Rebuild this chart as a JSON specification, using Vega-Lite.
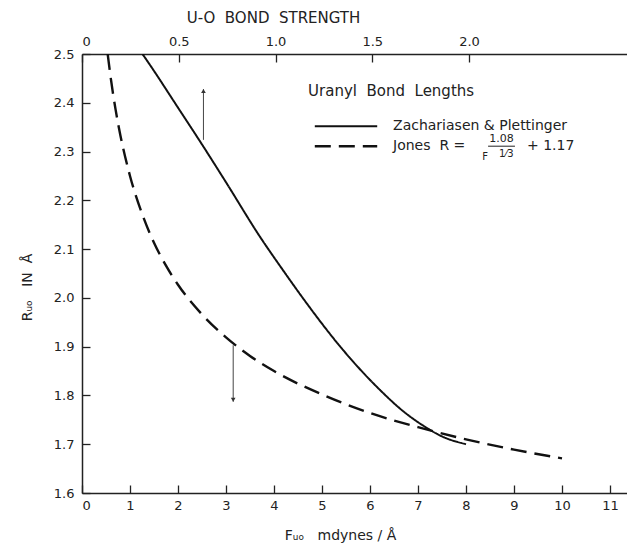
{
  "$schema": "https://vega.github.io/schema/vega-lite/v6.json",
  "autosize": "none",
  "width": 545,
  "height": 439,
  "padding": {"left": 82, "top": 54, "right": 0, "bottom": 53},
  "background": "white",
  "config": {
    "view": {"stroke": null},
    "font": "DejaVu Sans",
    "axis": {
      "grid": false,
      "domainColor": "#222",
      "tickColor": "#222",
      "labelColor": "#222",
      "titleColor": "#222",
      "labelFont": "DejaVu Sans",
      "titleFont": "DejaVu Sans",
      "labelFontSize": 13,
      "titleFontSize": 14,
      "titleFontWeight": "normal",
      "domainWidth": 1.5,
      "tickWidth": 1.3
    }
  },
  "datasets": {
    "curves": [
      {"series": "Zachariasen & Plettinger", "F": 1.26, "R": 2.5},
      {"series": "Zachariasen & Plettinger", "F": 1.42, "R": 2.477},
      {"series": "Zachariasen & Plettinger", "F": 2.0, "R": 2.39},
      {"series": "Zachariasen & Plettinger", "F": 2.53, "R": 2.31},
      {"series": "Zachariasen & Plettinger", "F": 3.0, "R": 2.237},
      {"series": "Zachariasen & Plettinger", "F": 3.71, "R": 2.125},
      {"series": "Zachariasen & Plettinger", "F": 4.2, "R": 2.055},
      {"series": "Zachariasen & Plettinger", "F": 4.68, "R": 1.989},
      {"series": "Zachariasen & Plettinger", "F": 5.44, "R": 1.893},
      {"series": "Zachariasen & Plettinger", "F": 6.2, "R": 1.812},
      {"series": "Zachariasen & Plettinger", "F": 6.7, "R": 1.767},
      {"series": "Zachariasen & Plettinger", "F": 7.11, "R": 1.738},
      {"series": "Zachariasen & Plettinger", "F": 7.5, "R": 1.716},
      {"series": "Zachariasen & Plettinger", "F": 8.0, "R": 1.7},
      {"series": "Jones", "F": 0.535, "R": 2.5},
      {"series": "Jones", "F": 0.6, "R": 2.45},
      {"series": "Jones", "F": 0.7, "R": 2.386},
      {"series": "Jones", "F": 0.8, "R": 2.333},
      {"series": "Jones", "F": 0.9, "R": 2.289},
      {"series": "Jones", "F": 1.0, "R": 2.25},
      {"series": "Jones", "F": 1.25, "R": 2.173},
      {"series": "Jones", "F": 1.5, "R": 2.113},
      {"series": "Jones", "F": 1.75, "R": 2.066},
      {"series": "Jones", "F": 2.0, "R": 2.027},
      {"series": "Jones", "F": 2.5, "R": 1.966},
      {"series": "Jones", "F": 3.0, "R": 1.919},
      {"series": "Jones", "F": 3.5, "R": 1.881},
      {"series": "Jones", "F": 4.0, "R": 1.85},
      {"series": "Jones", "F": 5.0, "R": 1.802},
      {"series": "Jones", "F": 6.0, "R": 1.764},
      {"series": "Jones", "F": 7.0, "R": 1.735},
      {"series": "Jones", "F": 8.0, "R": 1.71},
      {"series": "Jones", "F": 9.0, "R": 1.689},
      {"series": "Jones", "F": 10.0, "R": 1.671}
    ],
    "arrows": [
      {"F": 2.53, "R": 2.324, "R2": 2.428, "tipR": 2.424, "dir": "triangle-up"},
      {"F": 3.15, "R": 1.903, "R2": 1.787, "tipR": 1.791, "dir": "triangle-down"}
    ],
    "keylines": [
      {"series": "Zachariasen & Plettinger", "F": 4.85, "F2": 6.15, "R": 2.352},
      {"series": "Jones", "F": 4.85, "F2": 6.15, "R": 2.311}
    ],
    "fracbar": [
      {"F": 8.46, "F2": 9.02, "R": 2.311}
    ],
    "labels": [
      {"text": "Uranyl\u00a0 Bond\u00a0 Lengths", "F": 4.71, "R": 2.424, "size": 15},
      {"text": "Zachariasen & Plettinger", "F": 6.48, "R": 2.352, "size": 14},
      {"text": "Jones\u00a0 R =", "F": 6.48, "R": 2.311, "size": 14},
      {"text": "+ 1.17", "F": 9.27, "R": 2.311, "size": 14}
    ],
    "smalllabels": [
      {"text": "1.08", "F": 8.74, "R": 2.326, "size": 11},
      {"text": "F", "F": 8.4, "R": 2.288, "size": 10},
      {"text": "1⁄3", "F": 8.84, "R": 2.294, "size": 10}
    ],
    "top": [{"bs": 0}]
  },
  "layer": [
    {
      "layer": [
        {
          "data": {"name": "curves"},
          "mark": {"type": "line", "interpolate": "monotone", "color": "#111", "clip": true},
          "encoding": {
            "x": {
              "field": "F", "type": "quantitative",
              "scale": {"domain": [0, 11.354], "nice": false, "zero": false},
              "axis": {
                "orient": "bottom",
                "values": [0, 1, 2, 3, 4, 5, 6, 7, 8, 9, 10, 11],
                "format": "d",
                "tickSize": -8,
                "labelPadding": 14,
                "title": "Fᵤₒ\u00a0\u00a0 mdynes / Å",
                "titleX": 258,
                "titleY": 42,
                "titleBaseline": "middle",
                "titleAlign": "center"
              }
            },
            "y": {
              "field": "R", "type": "quantitative",
              "scale": {"domain": [1.6, 2.5], "nice": false, "zero": false},
              "axis": {
                "values": [1.6, 1.7, 1.8, 1.9, 2.0, 2.1, 2.2, 2.3, 2.4, 2.5],
                "format": ".1f",
                "tickSize": -8,
                "labelPadding": 16,
                "title": "Rᵤₒ\u00a0\u00a0 IN\u00a0 Å",
                "titleX": -55,
                "titleY": 233,
                "titleBaseline": "middle",
                "titleAlign": "center"
              }
            },
            "detail": {"field": "series"},
            "strokeDash": {
              "field": "series", "type": "nominal",
              "scale": {"domain": ["Zachariasen & Plettinger", "Jones"], "range": [[1, 0], [16, 8]]},
              "legend": null
            },
            "strokeWidth": {
              "field": "series", "type": "nominal",
              "scale": {"domain": ["Zachariasen & Plettinger", "Jones"], "range": [2, 2.4]},
              "legend": null
            }
          }
        },
        {
          "data": {"name": "keylines"},
          "mark": {"type": "rule", "color": "#111"},
          "encoding": {
            "x": {"field": "F", "type": "quantitative"},
            "x2": {"field": "F2"},
            "y": {"field": "R", "type": "quantitative"},
            "strokeDash": {
              "field": "series", "type": "nominal",
              "scale": {"domain": ["Zachariasen & Plettinger", "Jones"], "range": [[1, 0], [16, 8]]},
              "legend": null
            },
            "strokeWidth": {
              "field": "series", "type": "nominal",
              "scale": {"domain": ["Zachariasen & Plettinger", "Jones"], "range": [2, 2.4]},
              "legend": null
            }
          }
        },
        {
          "data": {"name": "fracbar"},
          "mark": {"type": "rule", "color": "#222", "strokeWidth": 1},
          "encoding": {
            "x": {"field": "F", "type": "quantitative"},
            "x2": {"field": "F2"},
            "y": {"field": "R", "type": "quantitative"}
          }
        },
        {
          "data": {"name": "arrows"},
          "mark": {"type": "rule", "color": "#444", "strokeWidth": 1},
          "encoding": {
            "x": {"field": "F", "type": "quantitative"},
            "y": {"field": "R", "type": "quantitative"},
            "y2": {"field": "R2"}
          }
        },
        {
          "data": {"name": "arrows"},
          "mark": {"type": "point", "filled": true, "color": "#333", "opacity": 1, "size": 22},
          "encoding": {
            "x": {"field": "F", "type": "quantitative"},
            "y": {"field": "tipR", "type": "quantitative"},
            "shape": {"field": "dir", "type": "nominal", "scale": null}
          }
        },
        {
          "data": {"name": "labels"},
          "mark": {"type": "text", "align": "left", "baseline": "middle", "color": "#222", "font": "DejaVu Sans"},
          "encoding": {
            "x": {"field": "F", "type": "quantitative"},
            "y": {"field": "R", "type": "quantitative"},
            "text": {"field": "text"},
            "size": {"field": "size", "type": "quantitative", "scale": null}
          }
        },
        {
          "data": {"name": "smalllabels"},
          "mark": {"type": "text", "align": "center", "baseline": "middle", "color": "#222", "font": "DejaVu Sans"},
          "encoding": {
            "x": {"field": "F", "type": "quantitative"},
            "y": {"field": "R", "type": "quantitative"},
            "text": {"field": "text"},
            "size": {"field": "size", "type": "quantitative", "scale": null}
          }
        }
      ]
    },
    {
      "data": {"name": "top"},
      "mark": {"type": "point", "opacity": 0},
      "encoding": {
        "x": {
          "field": "bs", "type": "quantitative",
          "scale": {"domain": [0, 2.8165], "nice": false, "zero": false},
          "axis": {
            "orient": "top",
            "values": [0, 0.5, 1.0, 1.5, 2.0],
            "labelExpr": "datum.value == 0 ? '0' : format(datum.value, '.1f')",
            "tickSize": -8,
            "labelPadding": 14,
            "title": "U-O\u00a0 BOND\u00a0 STRENGTH",
            "titleFontSize": 15,
            "titleX": 191,
            "titleY": -37,
            "titleBaseline": "middle",
            "titleAlign": "center"
          }
        }
      }
    }
  ],
  "resolve": {"scale": {"x": "independent"}}
}
